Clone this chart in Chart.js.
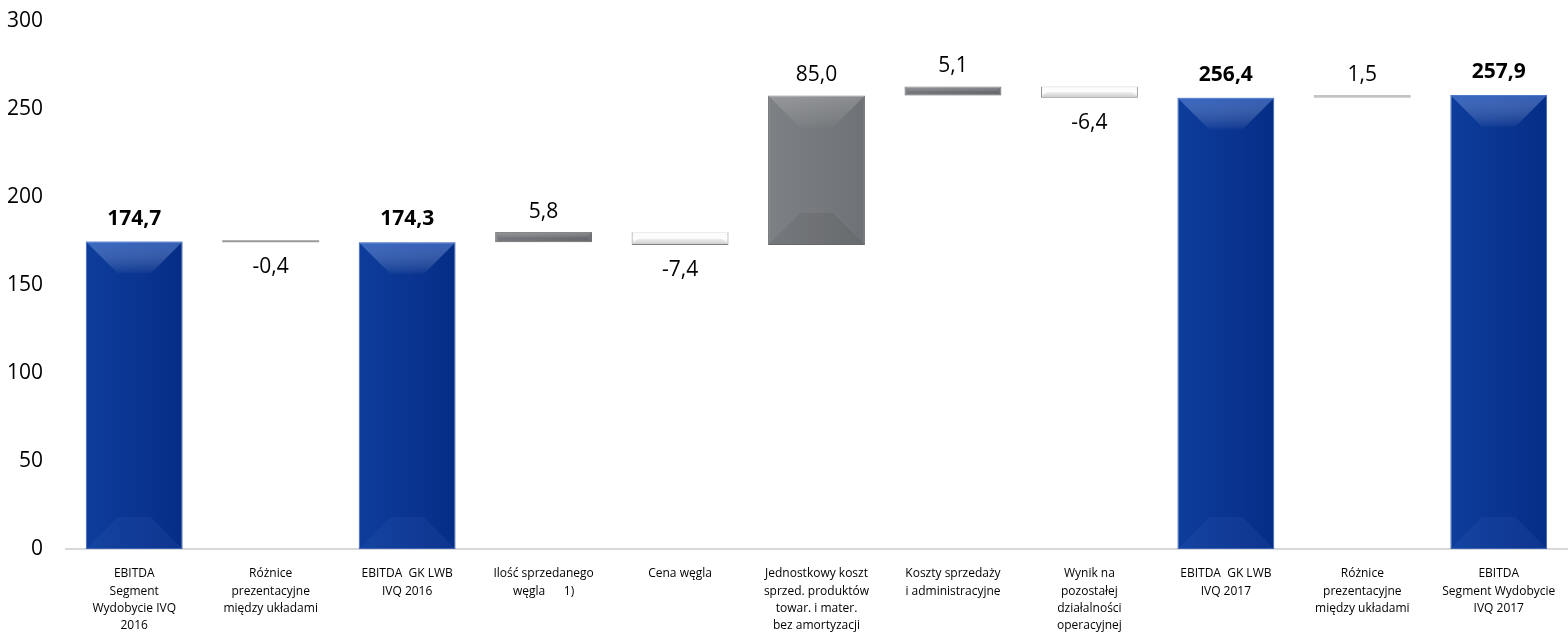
<!DOCTYPE html>
<html>
<head>
<meta charset="utf-8">
<script src="https://cdn.jsdelivr.net/npm/chart.js@4"></script>
<style>
  html, body { margin: 0; padding: 0; background: #fff; }
  #wrap { width: 1568px; height: 641px; }
</style>
</head>
<body>
<div id="wrap"><canvas id="myChart"></canvas></div>
<script>
// dane wykresu (mln zł)
const kategorie = [
  ["EBITDA", "Segment", "Wydobycie IVQ", "2016"],
  ["Różnice", "prezentacyjne", "między układami"],
  ["EBITDA  GK LWB", "IVQ 2016"],
  ["Ilość sprzedanego", "węgla      1)"],
  ["Cena węgla"],
  ["Jednostkowy koszt", "sprzed. produktów", "towar. i mater.", "bez amortyzacji"],
  ["Koszty sprzedaży", "i administracyjne"],
  ["Wynik na", "pozostałej", "działalności", "operacyjnej"],
  ["EBITDA  GK LWB", "IVQ 2017"],
  ["Różnice", "prezentacyjne", "między układami"],
  ["EBITDA", "Segment Wydobycie", "IVQ 2017"]
];
// "suma" = słupek od zera, "zmiana" = przyrost względem poprzedniego
const typy = ["suma", "roznica", "suma", "zmiana", "zmiana", "zmiana", "zmiana", "zmiana", "suma", "roznica", "suma"];
const wartosci = [174.7, -0.4, 174.3, 5.8, -7.4, 85.0, 5.1, -6.4, 256.4, 1.5, 257.9];
const yTicks = [0, 50, 100, 150, 200, 250, 300];

// budowa zakresów słupków (waterfall)
let poziom = 0;
const zakresy = wartosci.map((v, i) => {
  if (typy[i] === "suma") { poziom = v; return [0, v]; }
  const start = poziom;
  poziom = poziom + v;
  return [start, poziom];
});

const fmt = v => v.toFixed(1).replace(".", ",");
const ok = (...n) => n.every(Number.isFinite);

function kolor(context) {
  const i = context.dataIndex;
  const chart = context.chart;
  const sx = chart.scales.x, sy = chart.scales.y;
  const ctx = chart.ctx;
  const plain = typy[i] === "suma" ? "#0a3590" : (typy[i] === "roznica" ? (wartosci[i] < 0 ? "#9a9a9a" : "#c4c4c4") : (wartosci[i] >= 0 ? "#75787c" : "#f2f2f2"));
  if (!sx || !sy || typy[i] === "roznica") return plain;
  const cx = sx.getPixelForValue(i);
  const w = (sx.width / kategorie.length) * 0.71;
  const yA = sy.getPixelForValue(zakresy[i][0]);
  const yB = sy.getPixelForValue(zakresy[i][1]);
  if (!ok(cx, w, yA, yB) || w <= 0) return plain;
  if (typy[i] === "suma") {
    const g = ctx.createLinearGradient(cx - w / 2, 0, cx + w / 2, 0);
    g.addColorStop(0, "#0d3d9c");
    g.addColorStop(0.5, "#0a3591");
    g.addColorStop(1, "#042d86");
    return g;
  }
  if (wartosci[i] >= 0) {
    const g = ctx.createLinearGradient(cx - w / 2, 0, cx + w / 2, 0);
    g.addColorStop(0, "#7d8084");
    g.addColorStop(0.5, "#76797d");
    g.addColorStop(1, "#6e7175");
    return g;
  }
  const top = Math.min(yA, yB), bottom = Math.max(yA, yB);
  if (bottom - top < 1) return plain;
  const g = ctx.createLinearGradient(0, top, 0, bottom);
  g.addColorStop(0, "#f4f4f4");
  g.addColorStop(0.5, "#ffffff");
  g.addColorStop(1, "#d6d6d6");
  return g;
}

// efekt fazowania krawędzi słupków
const faza = {
  id: "faza",
  afterDatasetDraw(chart) {
    const ctx = chart.ctx;
    const meta = chart.getDatasetMeta(0);
    ctx.save();
    meta.data.forEach((el, i) => {
      if (typy[i] === "roznica") return;
      const x0 = el.x - el.width / 2, x1 = el.x + el.width / 2;
      const y0 = Math.min(el.y, el.base), y1 = Math.max(el.y, el.base);
      const h = y1 - y0;
      const d = Math.min(32, el.width / 2, h / 2);
      if (d < 1) return;
      const suma = typy[i] === "suma";
      const jasna = suma ? "rgba(100,145,230,0.5)" : (wartosci[i] >= 0 ? "rgba(255,255,255,0.2)" : "rgba(255,255,255,0.9)");
      const dol = suma ? "rgba(90,130,220,0.1)" : "rgba(0,0,0,0.06)";
      // góra
      let g = ctx.createLinearGradient(0, y0, 0, y0 + d);
      g.addColorStop(0, jasna);
      g.addColorStop(1, "rgba(255,255,255,0.02)");
      ctx.fillStyle = g;
      ctx.beginPath();
      ctx.moveTo(x0, y0); ctx.lineTo(x1, y0); ctx.lineTo(x1 - d, y0 + d); ctx.lineTo(x0 + d, y0 + d); ctx.closePath();
      ctx.fill();
      // dół
      ctx.fillStyle = dol;
      ctx.beginPath();
      ctx.moveTo(x0, y1); ctx.lineTo(x1, y1); ctx.lineTo(x1 - d, y1 - d); ctx.lineTo(x0 + d, y1 - d); ctx.closePath();
      ctx.fill();
    });
    ctx.restore();
  }
};

const etykiety = {
  id: "etykiety",
  afterDatasetsDraw(chart) {
    const ctx = chart.ctx;
    const meta = chart.getDatasetMeta(0);
    ctx.save();
    ctx.textAlign = "center";
    ctx.textBaseline = "middle";
    ctx.fillStyle = "#000";
    meta.data.forEach((el, i) => {
      const top = Math.min(el.y, el.base);
      const bottom = Math.max(el.y, el.base);
      const v = wartosci[i];
      if (typy[i] === "suma") {
        ctx.font = "bold 21px 'Open Sans', sans-serif";
        ctx.fillText(fmt(v), el.x, top - 23);
      } else if (v >= 0) {
        ctx.font = "21px 'Open Sans', sans-serif";
        ctx.fillText(fmt(v), el.x, top - 20);
      } else {
        ctx.font = "21px 'Open Sans', sans-serif";
        ctx.fillText(fmt(v), el.x, bottom + 25);
      }
    });
    ctx.restore();
  }
};

new Chart(document.querySelector("#myChart"), {
  type: "bar",
  data: {
    labels: kategorie,
    datasets: [{
      data: zakresy,
      backgroundColor: kolor,
      borderColor: ctx => (typy[ctx.dataIndex] === "suma" ? "#3a5fb0" : (wartosci[ctx.dataIndex] < 0 && typy[ctx.dataIndex] === "zmiana" ? "#8a8a8a" : "#6d6d6d")),
      borderWidth: ctx => (typy[ctx.dataIndex] === "roznica" ? 0 : 1),
      borderSkipped: false,
      barPercentage: 0.71,
      categoryPercentage: 1.0,
      minBarLength: 2
    }]
  },
  options: {
    responsive: true,
    maintainAspectRatio: false,
    animation: false,
    layout: { padding: { top: 21, right: 1, left: 0, bottom: 0 } },
    plugins: {
      legend: { display: false },
      tooltip: { enabled: false }
    },
    scales: {
      x: {
        afterFit: axis => { axis.height = 92; axis.paddingLeft = 0; axis.paddingRight = 0; },
        grid: { display: false, drawTicks: false },
        border: { display: true, color: "#d9d9d9", width: 2 },
        ticks: {
          maxRotation: 0,
          autoSkip: false,
          padding: 16,
          color: "#000",
          font: { family: "'Open Sans', sans-serif", size: 12, lineHeight: 1.45 }
        }
      },
      y: {
        min: 0,
        max: 300,
        afterBuildTicks: axis => { axis.ticks = yTicks.map(v => ({ value: v })); },
        afterFit: axis => { axis.width = 66; axis.paddingTop = 0; axis.paddingBottom = 0; },
        grid: { display: false, drawTicks: false },
        border: { display: false },
        ticks: {
          padding: 23,
          color: "#000",
          font: { family: "'Open Sans', sans-serif", size: 21 }
        }
      }
    }
  },
  plugins: [faza, etykiety]
});
</script>
</body>
</html>
